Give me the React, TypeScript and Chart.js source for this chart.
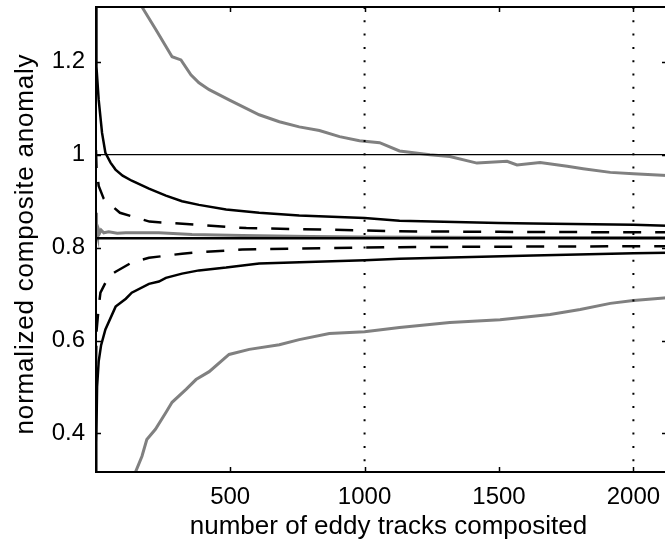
import React, { useEffect, useRef } from "react";
import { Chart, registerables } from "chart.js";

Chart.register(...registerables);

// ---- axis setup ----
const xLimits = [1, 2125];
const yLimits = [0.317, 1.318];
const xTickValues = [500, 1000, 1500, 2000];
const yTickValues = [0.4, 0.6, 0.8, 1, 1.2];
const xTitle = "number of eddy tracks composited";
const yTitle = "normalized composite anomaly";

// ---- reference lines ----
const refHorizontalY = 1;
const refVerticalX = [1000, 2000];

// ---- black solid envelope (upper) ----
const blackUpperX = [1, 2.6, 11, 23.5, 36, 55, 73.5, 100, 134, 198, 261, 321, 384, 485, 608, 757, 1000, 1130, 1500, 1627, 2000, 2125];
const blackUpperY = [1.36, 1.19, 1.118, 1.047, 1.004, 0.983, 0.968, 0.955, 0.944, 0.927, 0.912, 0.9, 0.892, 0.882, 0.875, 0.869, 0.864, 0.858, 0.853, 0.852, 0.849, 0.847];

// ---- black solid envelope (lower) ----
const blackLowerX = [1, 2, 5, 11, 20, 36, 74, 112, 134, 198, 235, 261, 321, 384, 485, 608, 1000, 1130, 1627, 2000, 2125];
const blackLowerY = [0.28, 0.38, 0.5, 0.555, 0.59, 0.624, 0.673, 0.69, 0.703, 0.722, 0.727, 0.735, 0.744, 0.751, 0.757, 0.766, 0.773, 0.776, 0.783, 0.788, 0.789];

// ---- black dashed envelope (upper) ----
const dashUpperX = [1, 3, 11, 30, 90, 200, 380, 560, 1000, 1130, 1500, 2000, 2125];
const dashUpperY = [1.01, 0.97, 0.933, 0.905, 0.875, 0.856, 0.849, 0.842, 0.837, 0.835, 0.834, 0.833, 0.833];

// ---- black dashed envelope (lower) ----
const dashLowerX = [1, 3, 11, 17.5, 48, 74, 134, 198, 321, 384, 545, 1000, 1130, 1500, 2000, 2125];
const dashLowerY = [0.55, 0.62, 0.672, 0.703, 0.738, 0.748, 0.768, 0.778, 0.787, 0.79, 0.796, 0.8, 0.801, 0.802, 0.803, 0.803];

// ---- black centre line ----
const blackCentreX = [1, 2125];
const blackCentreY = [0.82, 0.82];

// ---- grey centre line ----
const greyCentreX = [1, 2, 3, 4, 5, 6, 8, 10, 15, 20, 30, 48, 80, 112, 235, 358, 545, 800, 1000, 1500, 2000, 2125];
const greyCentreY = [0.86, 0.875, 0.815, 0.85, 0.83, 0.845, 0.825, 0.84, 0.832, 0.838, 0.832, 0.834, 0.831, 0.832, 0.832, 0.828, 0.826, 0.824, 0.823, 0.822, 0.822, 0.822];

// ---- grey upper curve ----
const greyUpperX = [150, 172, 224, 284, 317, 354, 384, 422, 496, 608, 683, 757, 832, 907, 981, 1056, 1130, 1243, 1317, 1418, 1530, 1567, 1653, 1754, 1813, 1914, 2000, 2125];
const greyUpperY = [1.36, 1.318, 1.269, 1.211, 1.204, 1.172, 1.155, 1.14, 1.118, 1.086, 1.071, 1.06, 1.052, 1.039, 1.03, 1.026, 1.008, 1.0, 0.996, 0.982, 0.986, 0.978, 0.983, 0.975, 0.97, 0.962, 0.959, 0.955];

// ---- grey lower curve ----
const greyLowerX = [140, 148, 172, 190, 222, 261, 284, 336, 373, 422, 496, 571, 683, 757, 869, 1000, 1130, 1317, 1504, 1690, 1802, 1914, 2000, 2125];
const greyLowerY = [0.3, 0.317, 0.351, 0.387, 0.409, 0.445, 0.467, 0.495, 0.516, 0.533, 0.57, 0.581, 0.591, 0.602, 0.615, 0.619, 0.628, 0.639, 0.645, 0.656, 0.667, 0.68, 0.686, 0.692];

const FONT = "'Liberation Sans', Arial, Helvetica, sans-serif";
const GREY = "rgb(128,128,128)";

function pts(xs: number[], ys: number[]) {
  return xs.map((x, i) => ({ x, y: ys[i] }));
}

const framePlugin = {
  id: "matlabFrame",
  afterDraw(chart: any) {
    const { ctx, chartArea } = chart;
    const { left, right, top, bottom } = chartArea;
    const xs = chart.scales.x;
    const ys = chart.scales.y;
    ctx.save();
    ctx.strokeStyle = "#000";
    ctx.lineWidth = 1.5;
    const tl = 5;
    ctx.beginPath();
    for (const v of yTickValues) {
      const py = Math.round(ys.getPixelForValue(v)) + 0.5;
      ctx.moveTo(left, py);
      ctx.lineTo(left + tl, py);
      ctx.moveTo(right, py);
      ctx.lineTo(right - tl, py);
    }
    for (const v of xTickValues) {
      const px = Math.round(xs.getPixelForValue(v)) + 0.5;
      ctx.moveTo(px, bottom);
      ctx.lineTo(px, bottom - tl);
      ctx.moveTo(px, top);
      ctx.lineTo(px, top + tl);
    }
    ctx.stroke();
    ctx.lineWidth = 2;
    ctx.strokeRect(left, top, right - left, bottom - top);

    ctx.fillStyle = "#000";
    ctx.font = `26px ${FONT}`;
    ctx.textAlign = "center";
    ctx.textBaseline = "alphabetic";
    ctx.fillText(xTitle, 388.5, 534);
    ctx.translate(33, 244);
    ctx.rotate(-Math.PI / 2);
    try {
      (ctx as any).letterSpacing = "0.8px";
    } catch (e) {}
    ctx.fillText(yTitle, 0, 0);
    ctx.restore();
  },
};

export default function App() {
  const ref = useRef<HTMLCanvasElement | null>(null);

  useEffect(() => {
    const canvas = ref.current;
    if (!canvas) return;
    const line = (
      data: { x: number; y: number }[],
      color: string,
      width: number,
      order: number,
      dash: number[] = []
    ) => ({
      data,
      borderColor: color,
      backgroundColor: color,
      borderWidth: width,
      borderDash: dash,
      pointRadius: 0,
      pointHoverRadius: 0,
      tension: 0,
      fill: false,
      order,
    });

    const chart = new Chart(canvas, {
      type: "line",
      data: {
        datasets: [
          line(pts(greyUpperX, greyUpperY), GREY, 3, 9),
          line(pts(greyLowerX, greyLowerY), GREY, 3, 9),
          line(pts(greyCentreX, greyCentreY), GREY, 3, 8),
          line(pts(blackCentreX, blackCentreY), "#000", 2.5, 7),
          line(pts(dashUpperX, dashUpperY), "#000", 2.5, 6, [18, 14]),
          line(pts(dashLowerX, dashLowerY), "#000", 2.5, 6, [18, 14]),
          line(pts(blackUpperX, blackUpperY), "#000", 2.5, 5),
          line(pts(blackLowerX, blackLowerY), "#000", 2.5, 5),
          line(
            [
              { x: xLimits[0], y: refHorizontalY },
              { x: xLimits[1], y: refHorizontalY },
            ],
            "#000",
            1.3,
            2
          ),
          ...refVerticalX.map((vx) =>
            line(
              [
                { x: vx, y: yLimits[1] },
                { x: vx, y: yLimits[0] },
              ],
              "#000",
              2,
              1,
              [2, 11.3]
            )
          ),
        ],
      },
      options: {
        animation: false,
        responsive: false,
        devicePixelRatio: 1,
        events: [],
        layout: { padding: { top: 7, right: 1, left: 0, bottom: 0 } },
        plugins: {
          legend: { display: false },
          tooltip: { enabled: false },
          title: { display: false },
        },
        scales: {
          x: {
            type: "linear",
            min: xLimits[0],
            max: xLimits[1],
            grid: { display: false, drawTicks: false },
            border: { display: false },
            afterBuildTicks: (s: any) => {
              s.ticks = xTickValues.map((value) => ({ value }));
            },
            afterFit: (s: any) => {
              s.height = 77;
              s.paddingLeft = 0;
              s.paddingRight = 0;
            },
            ticks: {
              color: "#000",
              font: { family: FONT, size: 24 },
              padding: 11,
              maxRotation: 0,
              autoSkip: false,
              callback: (v: any) => String(v),
            },
          },
          y: {
            type: "linear",
            min: yLimits[0],
            max: yLimits[1],
            grid: { display: false, drawTicks: false },
            border: { display: false },
            afterBuildTicks: (s: any) => {
              s.ticks = yTickValues.map((value) => ({ value }));
            },
            afterFit: (s: any) => {
              s.width = 96;
              s.paddingTop = 0;
              s.paddingBottom = 0;
            },
            ticks: {
              color: "#000",
              font: { family: FONT, size: 24 },
              padding: 11,
              autoSkip: false,
              callback: (v: any) => String(Math.round(v * 10) / 10),
            },
          },
        },
      },
      plugins: [framePlugin],
    } as any);
    return () => chart.destroy();
  }, []);

  return (
    <div
      style={{
        position: "fixed",
        left: 0,
        top: 0,
        width: 665,
        height: 549,
        overflow: "hidden",
        background: "#fff",
      }}
    >
      <canvas ref={ref} width={668} height={549} style={{ display: "block" }} />
    </div>
  );
}
